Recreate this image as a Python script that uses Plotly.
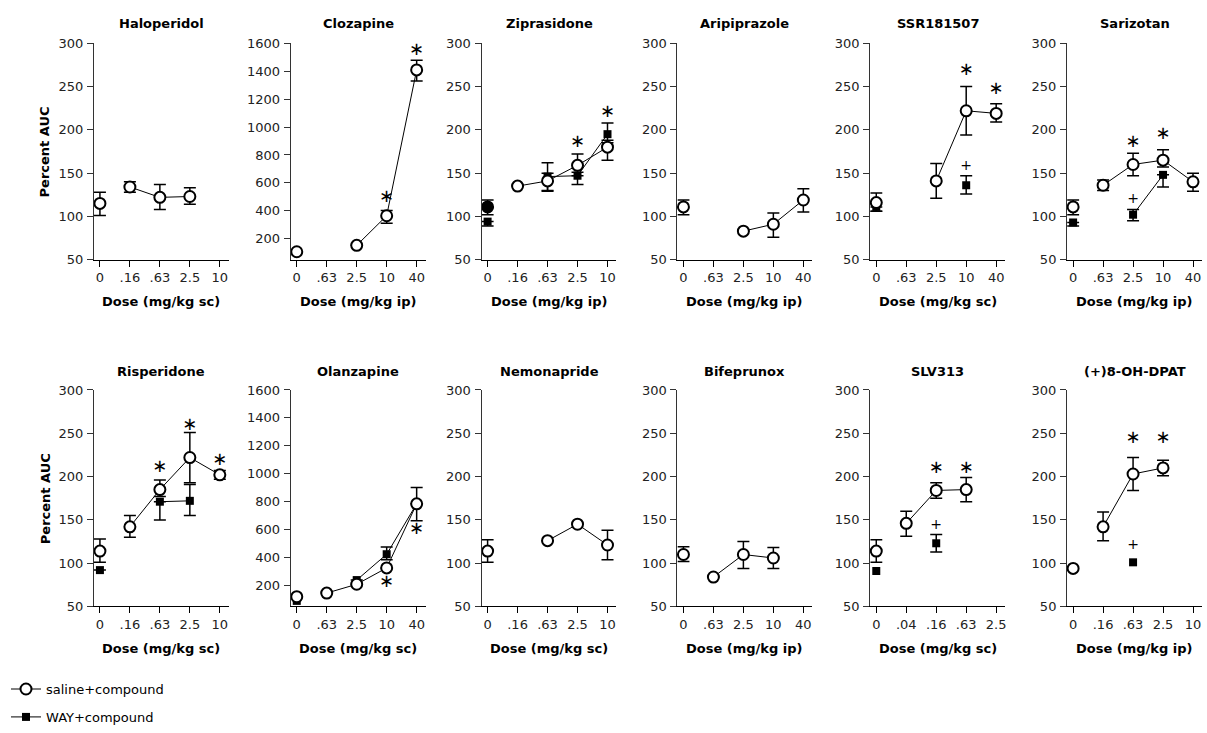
import plotly.graph_objects as go

W, H = 1207, 733

# ------------------------------------------------------------------ data
# Each panel: dose tick labels, saline+compound means (+up / -down errors),
# WAY+compound means (+up / -down errors), significance marks (* and +).

halo_ticks = ["0", ".16", ".63", "2.5", "10"]
halo_sal = [115, 134, 122, 123, None]
halo_sal_up = [13, 6, 15, 10, None]
halo_sal_dn = [14, 6, 14, 9, None]

cloz_ticks = ["0", ".63", "2.5", "10", "40"]
cloz_sal = [107, None, 153, 365, 1409]
cloz_sal_up = [None, None, None, 38, 70]
cloz_sal_dn = [None, None, None, 53, 79]
cloz_star = [None, None, None, 499, 1549]

zipr_ticks = ["0", ".16", ".63", "2.5", "10"]
zipr_sal = [111, 135, 141, 159, 180]
zipr_sal_up = [8, None, 21, 13, 8]
zipr_sal_dn = [9, None, 11, 8, 15]
zipr_way = [94, None, 146, 147, 195]
zipr_way_up = [0, None, 4, 0, 13]
zipr_way_dn = [5, None, 17, 10, 10]
zipr_star = [None, None, None, 185, 220]

arip_ticks = ["0", ".63", "2.5", "10", "40"]
arip_sal = [111, None, 83, 91, 119]
arip_sal_up = [8, None, None, 13, 13]
arip_sal_dn = [9, None, None, 15, 14]

ssr_ticks = ["0", ".63", "2.5", "10", "40"]
ssr_sal = [116, None, 141, 222, 219]
ssr_sal_up = [11, None, 20, 28, 11]
ssr_sal_dn = [10, None, 20, 28, 10]
ssr_way = [111, None, None, 136, None]
ssr_way_up = [0, None, None, 11, None]
ssr_way_dn = [5, None, None, 10, None]
ssr_star = [None, None, None, 268, 247]
ssr_plus = [None, None, None, 158, None]

sari_ticks = ["0", ".63", "2.5", "10", "40"]
sari_sal = [111, 136, 160, 165, 140]
sari_sal_up = [8, 6, 13, 12, 10]
sari_sal_dn = [9, 6, 13, 8, 11]
sari_way = [93, None, 102, 148, None]
sari_way_up = [0, None, 6, 0, None]
sari_way_dn = [4, None, 7, 14, None]
sari_star = [None, None, 185, 195, None]
sari_plus = [None, None, 120, None, None]

risp_ticks = ["0", ".16", ".63", "2.5", "10"]
risp_sal = [114, 142, 185, 222, 202]
risp_sal_up = [14, 13, 11, 29, 5]
risp_sal_dn = [13, 12, 8, 29, 5]
risp_way = [92, None, 171, 172, None]
risp_way_up = [0, None, 0, 19, None]
risp_way_dn = [0, None, 21, 17, None]
risp_star = [None, None, 210, 259, 219]

olan_ticks = ["0", ".63", "2.5", "10", "40"]
olan_sal = [120, 146, 209, 326, 785]
olan_sal_up = [None, None, None, None, 117]
olan_sal_dn = [None, None, None, None, 121]
olan_way = [90, None, 239, 424, 785]
olan_way_up = [None, None, None, 51, None]
olan_way_dn = [None, None, None, 40, None]
olan_star = [None, None, None, 225, 601]

nemo_ticks = ["0", ".16", ".63", "2.5", "10"]
nemo_sal = [114, None, 126, 145, 121]
nemo_sal_up = [13, None, None, None, 17]
nemo_sal_dn = [13, None, None, None, 17]

bife_ticks = ["0", ".63", "2.5", "10", "40"]
bife_sal = [110, 84, 110, 106, None]
bife_sal_up = [9, None, 15, 12, None]
bife_sal_dn = [8, None, 16, 12, None]

slv_ticks = ["0", ".04", ".16", ".63", "2.5"]
slv_sal = [114, 146, 184, 185, None]
slv_sal_up = [13, 14, 9, 14, None]
slv_sal_dn = [13, 15, 9, 14, None]
slv_way = [91, None, 123, None, None]
slv_way_up = [None, None, 10, None, None]
slv_way_dn = [None, None, 10, None, None]
slv_star = [None, None, 209, 209, None]
slv_plus = [None, None, 144, None, None]

dpat_ticks = ["0", ".16", ".63", "2.5", "10"]
dpat_sal = [94, 142, 203, 210, None]
dpat_sal_up = [None, 17, 19, 9, None]
dpat_sal_dn = [None, 16, 19, 9, None]
dpat_way = [None, None, 101, None, None]
dpat_star = [None, None, 244, 244, None]
dpat_plus = [None, None, 120, None, None]

NONE5 = [None] * 5

panels = [
    dict(title="Haloperidol", route="sc", ticks=halo_ticks, sal=halo_sal, sal_up=halo_sal_up, sal_dn=halo_sal_dn),
    dict(title="Clozapine", route="ip", ticks=cloz_ticks, sal=cloz_sal, sal_up=cloz_sal_up, sal_dn=cloz_sal_dn, star=cloz_star, big=True),
    dict(title="Ziprasidone", route="ip", ticks=zipr_ticks, sal=zipr_sal, sal_up=zipr_sal_up, sal_dn=zipr_sal_dn,
         way=zipr_way, way_up=zipr_way_up, way_dn=zipr_way_dn, star=zipr_star, filled_zero=True),
    dict(title="Aripiprazole", route="ip", ticks=arip_ticks, sal=arip_sal, sal_up=arip_sal_up, sal_dn=arip_sal_dn),
    dict(title="SSR181507", route="sc", ticks=ssr_ticks, sal=ssr_sal, sal_up=ssr_sal_up, sal_dn=ssr_sal_dn,
         way=ssr_way, way_up=ssr_way_up, way_dn=ssr_way_dn, star=ssr_star, plus=ssr_plus),
    dict(title="Sarizotan", route="ip", ticks=sari_ticks, sal=sari_sal, sal_up=sari_sal_up, sal_dn=sari_sal_dn,
         way=sari_way, way_up=sari_way_up, way_dn=sari_way_dn, star=sari_star, plus=sari_plus),
    dict(title="Risperidone", route="sc", ticks=risp_ticks, sal=risp_sal, sal_up=risp_sal_up, sal_dn=risp_sal_dn,
         way=risp_way, way_up=risp_way_up, way_dn=risp_way_dn, star=risp_star),
    dict(title="Olanzapine", route="sc", ticks=olan_ticks, sal=olan_sal, sal_up=olan_sal_up, sal_dn=olan_sal_dn,
         way=olan_way, way_up=olan_way_up, way_dn=olan_way_dn, star=olan_star, big=True),
    dict(title="Nemonapride", route="sc", ticks=nemo_ticks, sal=nemo_sal, sal_up=nemo_sal_up, sal_dn=nemo_sal_dn),
    dict(title="Bifeprunox", route="ip", ticks=bife_ticks, sal=bife_sal, sal_up=bife_sal_up, sal_dn=bife_sal_dn),
    dict(title="SLV313", route="sc", ticks=slv_ticks, sal=slv_sal, sal_up=slv_sal_up, sal_dn=slv_sal_dn,
         way=slv_way, way_up=slv_way_up, way_dn=slv_way_dn, star=slv_star, plus=slv_plus),
    dict(title="(+)8-OH-DPAT", route="ip", ticks=dpat_ticks, sal=dpat_sal, sal_up=dpat_sal_up, sal_dn=dpat_sal_dn,
         way=dpat_way, star=dpat_star, plus=dpat_plus),
]

# ------------------------------------------------------------------ layout
COL_PX = [(94, 229), (291, 426), (482, 617), (678, 813), (871, 1006), (1068, 1203)]
ROW_PX = [(37, 258), (391, 612)]
TITLE_Y = [17, 372]
XTITLE_Y = [301, 655]

FONT = "DejaVu Sans"
TICKFONT = dict(family=FONT, size=13, color="#222")

fig = go.Figure()


def err(up, dn):
    return dict(type="data", symmetric=False,
                array=[0 if u is None else u for u in up],
                arrayminus=[0 if d is None else d for d in dn],
                width=6, thickness=1.5, color="black")


def add_group(xa, ya, vals, up, dn, kind, filled_zero=False):
    idx = list(range(len(vals)))
    if kind == "sal":
        base = dict(symbol="circle", size=11, color="white", line=dict(color="black", width=2))
    else:
        base = dict(symbol="square", size=8, color="black", line=dict(color="black", width=0))
    up = up if up is not None else NONE5
    dn = dn if dn is not None else NONE5
    m0 = dict(base)
    if filled_zero:
        m0 = dict(symbol="circle", size=11, color="black", line=dict(color="black", width=2))
    # vehicle (dose 0) point: not connected to the dose-response line
    has0 = up[0] is not None or dn[0] is not None
    fig.add_trace(go.Scatter(
        x=idx[:1], y=vals[:1], mode="markers", marker=m0,
        error_y=err(up[:1], dn[:1]) if has0 else dict(visible=False),
        xaxis=xa, yaxis=ya, showlegend=False, hoverinfo="skip", cliponaxis=False))
    # dose-response points: connected
    has_err = any(v is not None for v in up[1:] + dn[1:])
    fig.add_trace(go.Scatter(
        x=idx[1:], y=vals[1:], mode="lines+markers", marker=base,
        line=dict(color="black", width=1), connectgaps=False,
        error_y=err(up[1:], dn[1:]) if has_err else dict(visible=False),
        xaxis=xa, yaxis=ya, showlegend=False, hoverinfo="skip", cliponaxis=False))


annotations = []
for i, p in enumerate(panels):
    r, c = divmod(i, 6)
    suf = "" if i == 0 else str(i + 1)
    xa, ya = "x" + suf, "y" + suf
    x0, x1 = COL_PX[c]
    yt, yb = ROW_PX[r]
    if p.get("big", False):
        yrange = [50, 1600]
        yticks = list(range(200, 1601, 200))
    else:
        yrange = [50, 300]
        yticks = list(range(50, 301, 50))
    fig.layout["xaxis" + suf] = dict(
        domain=[x0 / W, x1 / W], anchor=ya, range=[-0.2, 4.3],
        tickmode="array", tickvals=list(range(len(p["ticks"]))), ticktext=p["ticks"],
        showline=True, linecolor="black", linewidth=1, ticks="outside", ticklen=6,
        tickwidth=1, tickcolor="black", tickfont=TICKFONT, showgrid=False,
        zeroline=False, fixedrange=True)
    fig.layout["yaxis" + suf] = dict(
        domain=[1 - yb / H, 1 - yt / H], anchor=xa, range=yrange,
        tickmode="array", tickvals=yticks,
        showline=True, linecolor="#333", linewidth=1.2, ticks="outside", ticklen=6,
        tickwidth=1, tickcolor="#333", tickfont=TICKFONT, showgrid=False,
        zeroline=False, fixedrange=True, ticklabelstandoff=1)

    if p.get("way") is not None:
        add_group(xa, ya, p["way"], p.get("way_up"), p.get("way_dn"), "way")
    add_group(xa, ya, p["sal"], p["sal_up"], p["sal_dn"], "sal", p.get("filled_zero", False))

    idx = list(range(5))
    if p.get("star") is not None:
        fig.add_trace(go.Scatter(
            x=idx, y=p["star"], mode="text", text=["∗" if v is not None else "" for v in p["star"]],
            textfont=dict(family=FONT, size=18, color="black"), textposition="middle center",
            xaxis=xa, yaxis=ya, showlegend=False, hoverinfo="skip", cliponaxis=False))
    if p.get("plus") is not None:
        fig.add_trace(go.Scatter(
            x=idx, y=p["plus"], mode="text", text=["+" if v is not None else "" for v in p["plus"]],
            textfont=dict(family=FONT, size=14, color="black"), textposition="middle center",
            xaxis=xa, yaxis=ya, showlegend=False, hoverinfo="skip", cliponaxis=False))

    cx = (x0 + x1) / 2 / W
    annotations.append(dict(text="<b>%s</b>" % p["title"], x=cx, y=1 - TITLE_Y[r] / H,
                            xref="paper", yref="paper", showarrow=False,
                            xanchor="center", yanchor="middle",
                            font=dict(family=FONT, size=13, color="black")))
    annotations.append(dict(text="<b>Dose (mg/kg %s)</b>" % p["route"], x=cx, y=1 - XTITLE_Y[r] / H,
                            xref="paper", yref="paper", showarrow=False,
                            xanchor="center", yanchor="middle",
                            font=dict(family=FONT, size=13, color="black")))

for r in range(2):
    yt, yb = ROW_PX[r]
    annotations.append(dict(text="<b>Percent AUC</b>", x=45 / W, y=1 - (yt + yb) / 2 / H,
                            xref="paper", yref="paper", showarrow=False, textangle=-90,
                            xanchor="center", yanchor="middle",
                            font=dict(family=FONT, size=13, color="black")))

# legend entries
fig.add_trace(go.Scatter(x=[None], y=[None], mode="lines+markers", name="saline+compound",
                         marker=dict(symbol="circle", size=11, color="white", line=dict(color="black", width=2)),
                         line=dict(color="black", width=1), legendgroup="a", showlegend=True))
fig.add_trace(go.Scatter(x=[None], y=[None], mode="lines+markers", name="WAY+compound",
                         marker=dict(symbol="square", size=8, color="black"),
                         line=dict(color="black", width=1), legendgroup="b", showlegend=True))

fig.update_layout(
    width=W, height=H, margin=dict(l=0, r=0, t=0, b=0),
    paper_bgcolor="white", plot_bgcolor="white",
    annotations=annotations,
    showlegend=True,
    legend=dict(x=6 / W, y=1 - 681 / H, xanchor="left", yanchor="top",
                font=dict(family=FONT, size=13, color="black"),
                tracegroupgap=8, bgcolor="rgba(0,0,0,0)", borderwidth=0,
                itemclick=False, itemdoubleclick=False),
)

fig.write_html("out.html", config={"displayModeBar": False},
               post_script="document.body.style.margin='0';document.body.style.overflow='hidden';")
